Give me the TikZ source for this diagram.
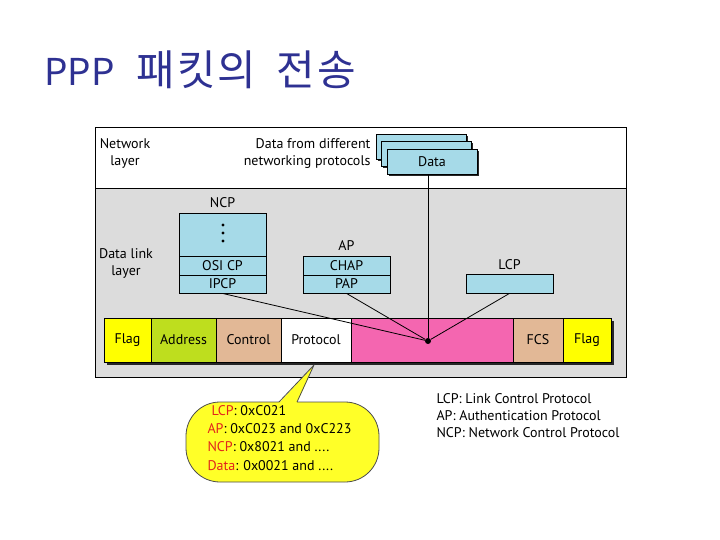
\documentclass[tikz,border=0pt]{standalone}
\usepackage{fontspec}
\setmainfont{PT Sans}
\newfontfamily\krfont{Noto Sans CJK KR}
\definecolor{lblue}{RGB}{166,218,232}
\definecolor{bggray}{RGB}{220,220,220}
\definecolor{flagyel}{RGB}{255,255,0}
\definecolor{addrgreen}{RGB}{190,222,30}
\definecolor{tan}{RGB}{226,184,150}
\definecolor{dpink}{RGB}{244,102,176}
\definecolor{callyel}{RGB}{255,255,40}
\definecolor{titleblue}{RGB}{46,49,146}
\definecolor{lblred}{RGB}{226,36,28}
\begin{document}
\begin{tikzpicture}[x=1pt,y=-1pt,
  every node/.style={font=\fontsize{14}{17}\selectfont},
  bluebox/.style={draw, fill=lblue, minimum width=87pt, inner sep=0pt, line width=0.8pt},
  cell/.style={draw, inner sep=0pt, minimum height=44pt, line width=0.6pt},
  lbl/.style={text=lblred}]
\useasboundingbox (0,0) rectangle (720,540);
% title
\node[anchor=west, text=titleblue, inner sep=0pt, font=\krfont\fontsize{37}{40}\selectfont] (title) at (44,70) {PPP\hspace{22pt}{\fontsize{42}{44}\selectfont 패\hspace{2pt}킷\hspace{2pt}의\hspace{20pt}전\hspace{2pt}송}};
% outer frame
\fill[white] (95,127) rectangle (626,188);
\fill[bggray] (95,188) rectangle (626,377);
\draw[line width=0.8pt] (95,188) -- (626,188);
\draw[line width=0.8pt] (95,127) rectangle (626,377);
% layer labels
\node[align=center] (netl) at (125,153.5) {Network\\layer};
\node[align=center] (dll) at (126,263) {Data link\\layer};
\node[align=right, anchor=east] (dfd) at (374,153.5) {Data from different\\networking protocols};
% stacked data boxes
\foreach \dx/\dy in {0/0,5/7} {
  \fill[black!85] (378+\dx,136+\dy) rectangle (468+\dx,161+\dy);
  \draw[fill=lblue, line width=0.6pt] (376+\dx,134+\dy) rectangle (466+\dx,159+\dy);
}
\fill[black!85] (389,151) rectangle (479,176);
\node[draw, fill=lblue, line width=0.6pt, minimum width=90pt, minimum height=25pt, inner sep=0pt] (data) at (432,161.5) {Data};
% NCP
\node (ncplbl) at (222.5,203) {NCP};
\node[bluebox, minimum height=43pt] (ncp) at (222.5,234.5) {};
\foreach \yy in {225,233,241} \fill (223,\yy) circle (1.6pt);
\node[bluebox, minimum height=19pt] (osicp) at (222.5,265.5) {OSI CP};
\node[bluebox, minimum height=18pt] (ipcp) at (222.5,284) {IPCP};
% AP
\node (aplbl) at (346.5,246) {AP};
\node[bluebox, minimum height=19pt] (chap) at (346.5,265.5) {CHAP};
\node[bluebox, minimum height=18pt] (pap) at (346.5,284) {PAP};
% LCP
\node (lcplbl) at (509.5,265) {LCP};
\node[bluebox, minimum height=19pt] (lcp) at (509.5,283.5) {};
% frame
\fill[black!85] (107,321) rectangle (614,365);
\node[cell, fill=flagyel, minimum width=47pt] (flag1) at (127.5,340) {Flag};
\node[cell, fill=addrgreen, minimum width=65pt] (addr) at (183.5,340) {Address};
\node[cell, fill=tan, minimum width=65pt] (ctrl) at (248.5,340) {Control};
\node[cell, fill=white, minimum width=70pt] (proto) at (316,340) {Protocol};
\node[cell, fill=dpink, minimum width=162pt] (payload) at (432,340) {};
\node[cell, fill=tan, minimum width=50pt] (fcs) at (538,340) {FCS};
\node[cell, fill=flagyel, minimum width=48pt] (flag2) at (587,340) {Flag};
% connectors
\node[circle, fill, inner sep=0pt, minimum size=6pt] (dot) at (428,341) {};
\draw[line width=0.8pt] (data.south -| dot) -- (dot);
\draw[line width=0.8pt] (ipcp.south) -- (dot);
\draw[line width=0.8pt] (pap.south) -- (dot);
\draw[line width=0.8pt] (lcp.south) -- (dot);
% callout
\fill[callyel, rounded corners=34pt] (186,402) rectangle (379,482);
\fill[callyel] (279,403) -- (314,365) -- (297,403) -- cycle;
\draw[black!70, line width=0.8pt, rounded corners=34pt] (297,402) -- (379,402) -- (379,482) -- (186,482) -- (186,402) -- (279,402);
\draw[black!70, line width=0.8pt, line join=round] (279,402) -- (314,365) -- (297,402);
\node[anchor=west] (c1) at (208,411) {\textcolor{lblred}{LCP}: 0xC021};
\node[anchor=west] (c2) at (204,429) {\textcolor{lblred}{AP}: 0xC023 and 0xC223};
\node[anchor=west] (c3) at (204,447) {\textcolor{lblred}{NCP}: 0x8021 and ....};
\node[anchor=west] (c4) at (204,465.5) {\textcolor{lblred}{Data}: 0x0021 and ....};
% legend
\node[anchor=west] (l1) at (433,399) {LCP: Link Control Protocol};
\node[anchor=west] (l2) at (433,416) {AP: Authentication Protocol};
\node[anchor=west] (l3) at (433,433) {NCP: Network Control Protocol};
\end{tikzpicture}
\end{document}
